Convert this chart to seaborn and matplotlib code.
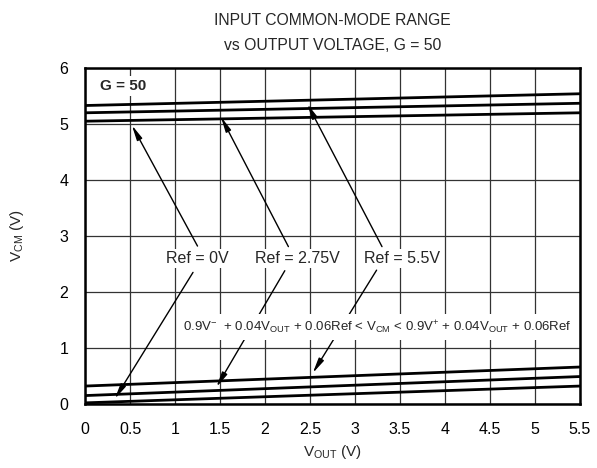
import numpy as np
import pandas as pd
import seaborn as sns
import matplotlib
matplotlib.use("Agg")
import matplotlib.pyplot as plt

# ---- data ----
vout = [0.0, 5.5]
refs = ["Ref = 0V", "Ref = 2.75V", "Ref = 5.5V"]
upper_ref0 = [5.05, 5.20]
upper_ref275 = [5.20, 5.37]
upper_ref55 = [5.33, 5.54]
lower_ref0 = [0.02, 0.32]
lower_ref275 = [0.15, 0.49]
lower_ref55 = [0.32, 0.66]

x_ticks = [0, 0.5, 1, 1.5, 2, 2.5, 3, 3.5, 4, 4.5, 5, 5.5]
x_tick_labels = ["0", "0.5", "1", "1.5", "2", "2.5", "3", "3.5", "4", "4.5", "5", "5.5"]
y_ticks = [0, 1, 2, 3, 4, 5, 6]

rows = []
for ref, up, lo in zip(refs, [upper_ref0, upper_ref275, upper_ref55],
                       [lower_ref0, lower_ref275, lower_ref55]):
    for x, u, l in zip(vout, up, lo):
        rows.append({"Ref": ref, "bound": "upper", "VOUT": x, "VCM": u})
        rows.append({"Ref": ref, "bound": "lower", "VOUT": x, "VCM": l})
df = pd.DataFrame(rows)
df["series"] = df["Ref"] + " " + df["bound"]

sns.set_style("white")
plt.rcParams["font.family"] = ["Liberation Sans", "DejaVu Sans"]
plt.rcParams["mathtext.fontset"] = "custom"
plt.rcParams["mathtext.rm"] = "Liberation Sans"
plt.rcParams["mathtext.it"] = "Liberation Sans"

fig = plt.figure(figsize=(5.97, 4.68), dpi=100)
ax = fig.add_axes([0.1424, 0.1368, 0.8291, 0.7179])

sns.lineplot(data=df, x="VOUT", y="VCM", units="series", estimator=None,
             color="black", linewidth=2.0, ax=ax, legend=False, zorder=3)

ax.set_xlim(0, 5.5)
ax.set_ylim(0, 6)
ax.set_xticks(x_ticks)
ax.set_xticklabels(x_tick_labels)
ax.set_yticks(y_ticks)
ax.tick_params(axis="both", length=0, labelsize=11.5, colors="black")
ax.tick_params(axis="x", pad=13)
ax.tick_params(axis="y", pad=12)
ax.grid(True, color="#333333", linewidth=0.9, zorder=0)
ax.set_axisbelow(True)
for s in ax.spines.values():
    s.set_linewidth(1.8)
    s.set_color("black")

ax.set_xlabel("V$_{\\mathrm{OUT}}$ (V)", fontsize=11, labelpad=4)
ax.set_ylabel("V$_{\\mathrm{CM}}$ (V)", fontsize=11, labelpad=24)
ax.set_title("INPUT COMMON-MODE RANGE\nvs OUTPUT VOLTAGE, G = 50",
             fontsize=11.3, pad=13, linespacing=1.8)

ax.text(0.42, 5.68, "G = 50", fontsize=11, fontweight="bold", ha="center", va="center",
        bbox=dict(facecolor="white", edgecolor="none", pad=2), zorder=4)

# label positions and arrow tips (top, bottom)
labels = [
    ("Ref = 0V", (1.25, 2.60), (0.52, 4.98), (1.25, 2.82), (0.33, 0.09), (1.20, 2.35)),
    ("Ref = 2.75V", (2.36, 2.60), (1.51, 5.13), (2.26, 2.81), (1.46, 0.30), (2.22, 2.38)),
    ("Ref = 5.5V", (3.52, 2.60), (2.47, 5.36), (3.30, 2.81), (2.53, 0.55), (3.24, 2.39)),
]
arrow = dict(arrowstyle="-|>,head_length=0.9,head_width=0.17", color="black",
             linewidth=1.0, shrinkA=0, shrinkB=0)
for text, pos, tip_top, start_top, tip_bot, start_bot in labels:
    ax.annotate("", xy=tip_top, xytext=start_top, arrowprops=arrow, zorder=5)
    ax.annotate("", xy=tip_bot, xytext=start_bot, arrowprops=arrow, zorder=5)
    ax.text(pos[0], pos[1], text, fontsize=11.5, ha="center", va="center",
            bbox=dict(facecolor="white", edgecolor="none", pad=1.5), zorder=6)

formula = ("0.9V$^{-}$  + 0.04V$_{\\mathrm{OUT}}$ + 0.06Ref < V$_{\\mathrm{CM}}$ < "
           "0.9V$^{+}$ + 0.04V$_{\\mathrm{OUT}}$ + 0.06Ref")
ax.text(3.245, 1.375, formula, fontsize=9.5, ha="center", va="center",
        family=["Liberation Sans Narrow", "Liberation Sans", "DejaVu Sans"],
        bbox=dict(facecolor="white", edgecolor="none", pad=3), zorder=7)

fig.savefig("out.png", dpi=100)
